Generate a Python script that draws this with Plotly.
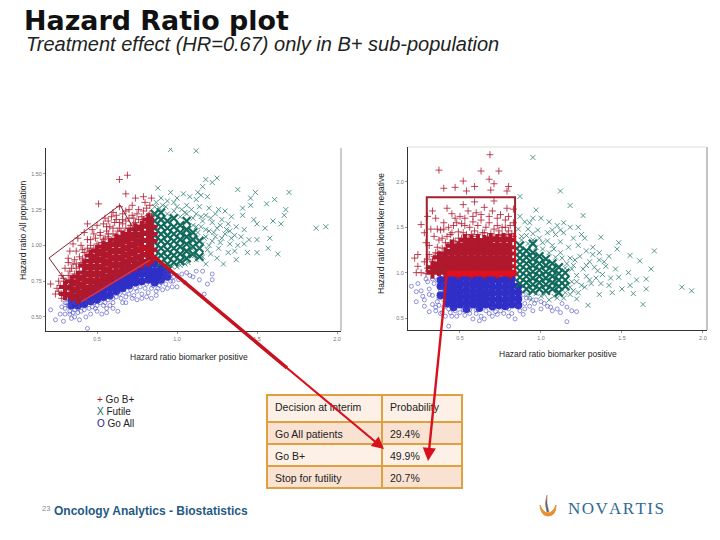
import plotly.graph_objects as go

W, H = 720, 540
RED, TEAL, BLUE = "#b0182e", "#0f6a5c", "#2f2fc8"

# ---- left panel: HR biomarker positive vs HR all population
# dense parts of the clouds: (x, [y readings at that x])
left_red_core = [(.30,[.66,.71]),(.34,[.65,.70,.75]),(.38,[.63,.68,.73,.78]),(.42,[.66,.71,.76,.81,.86]),(.46,[.69,.74,.79,.84,.89,.93]),
                 (.50,[.71,.76,.81,.86,.91,.96]),(.54,[.74,.79,.84,.89,.94,.99]),(.58,[.77,.82,.87,.92,.97,1.01]),(.62,[.80,.85,.90,.95,1.00,1.04]),
                 (.66,[.82,.87,.92,.97,1.02,1.06]),(.70,[.84,.89,.94,.99,1.04,1.08]),(.74,[.86,.91,.96,1.01,1.06,1.11]),
                 (.78,[.88,.93,.98,1.03,1.08,1.13]),(.82,[.89,.94,.99,1.04,1.09,1.14,1.18]),(.84,[.91,.97,1.03,1.08,1.13])]
left_blue_core = [(.34,[.58,.62]),(.38,[.58,.62]),(.42,[.59,.63,.67]),(.46,[.61,.65,.69]),(.50,[.62,.66,.70,.74]),(.54,[.64,.68,.72,.76]),
                  (.58,[.65,.70,.74,.78]),(.62,[.68,.72,.76,.80]),(.66,[.70,.74,.78,.82]),(.70,[.72,.76,.80,.84]),(.74,[.74,.78,.82,.86]),
                  (.78,[.75,.80,.84,.88]),(.82,[.76,.80,.84,.88]),(.86,[.74,.78,.82,.87]),(.90,[.76,.80,.84]),(.94,[.78,.82])]
left_teal_core = [(.86,[.92,.97,1.02,1.07,1.12,1.17,1.22]),(.90,[.88,.93,.98,1.03,1.08,1.13,1.18,1.23]),(.94,[.87,.92,.97,1.02,1.07,1.12,1.17]),
                  (.98,[.88,.93,.98,1.03,1.08,1.13,1.19]),(1.02,[.89,.94,.99,1.04,1.09,1.14]),(1.06,[.91,.96,1.01,1.06,1.11,1.17]),
                  (1.10,[.94,.99,1.04,1.09]),(1.14,[.92,.98,1.03])]
left_red = [(.69,1.49),(.64,1.46),(.68,1.36),(.74,1.33),(.79,1.34),(.84,1.33),(.80,1.30),(.72,1.28),(.51,1.29),(.64,1.27),(.70,1.25),(.76,1.25),
            (.81,1.26),(.60,1.23),(.66,1.22),(.72,1.21),(.78,1.20),(.83,1.22),(.55,1.19),(.62,1.18),(.68,1.17),(.74,1.16),(.80,1.16),(.44,1.15),
            (.50,1.14),(.54,1.15),(.58,1.13),(.64,1.12),(.70,1.12),(.47,1.11),(.42,1.09),(.52,1.09),(.57,1.08),(.62,1.07),(.67,1.09),(.38,1.05),
            (.44,1.04),(.49,1.05),(.54,1.04),(.59,1.03),(.35,1.01),(.40,1.00),(.46,1.00),(.51,1.00),(.33,.96),(.37,.96),(.42,.95),(.47,.96),
            (.32,.91),(.36,.90),(.41,.91),(.32,.88),(.30,.84),(.34,.84),(.39,.85),(.28,.79),(.32,.79),(.36,.80),(.26,.75),(.30,.75),(.34,.74),
            (.21,.73),(.25,.70),(.29,.71),(.32,.70),(.24,.66),(.28,.66),(.31,.64),(.35,.64),(.56,1.10),(.61,1.16),(.66,1.15),(.73,1.19),(.77,1.14),
            (.33,.82),(.35,.78),(.37,.84),(.40,.88),(.43,.90),(.45,.96),(.48,.98),(.50,1.01),(.53,1.02),(.55,1.05),(.57,1.06),(.60,1.08),(.63,1.10),
            (.65,1.10),(.68,1.12),(.71,1.14),(.73,1.15),(.76,1.18),(.79,1.18),(.82,1.21),(.84,1.20),(.27,.72),(.29,.77),(.31,.74),(.33,.72),(.26,.68),
            (.28,.63),(.44,.98),(.41,.97),(.39,.92),(.37,.87),(.35,.87),(.46,1.04),(.52,1.07),(.48,1.08),(.56,1.13),(.60,1.12),(.66,1.18),(.70,1.19),
            (.75,1.22),(.79,1.24),(.83,1.28),(.68,1.24),(.62,1.21),(.57,1.17),(.64,1.16),(.59,1.20)]
left_teal = [(.96,1.67),(1.12,1.66),(1.18,1.46),(1.25,1.47),(1.22,1.44),(1.16,1.41),(.88,1.40),(1.38,1.39),(1.49,1.37),(1.70,1.37),(1.61,1.32),
             (1.56,1.29),(1.68,1.25),(1.67,1.21),(1.60,1.17),(1.65,1.15),(1.55,1.12),(1.87,1.12),(1.93,1.13),(1.58,1.05),(1.63,.94),(1.57,.98),
             (1.50,.95),(1.44,.95),(1.32,.95),(1.37,.90),(1.29,.87),(1.42,1.01),(1.50,1.04),(1.50,1.15),(1.48,1.18),(1.41,1.21),(1.46,1.28),
             (1.41,1.26),(1.46,1.33),(1.13,1.37),(1.15,1.35),(1.19,1.34),(1.12,1.32),(1.08,1.34),(1.04,1.36),(1.00,1.33),(.96,1.37),(.98,1.30),
             (1.06,1.28),(1.14,1.27),(1.20,1.26),(1.26,1.25),(1.30,1.24),(1.24,1.22),(1.18,1.21),(1.12,1.22),(1.05,1.23),(1.34,1.20),(1.28,1.18),
             (1.22,1.16),(1.16,1.17),(1.12,1.13),(1.18,1.11),(1.25,1.12),(1.32,1.15),(1.37,1.13),(1.42,1.11),(1.36,1.07),(1.30,1.08),(1.24,1.06),
             (1.17,1.05),(1.12,1.05),(1.14,.98),(1.20,1.00),(1.27,1.02),(1.33,1.01),(1.38,1.00),(1.45,1.04),(1.21,.94),(1.16,.92),(1.25,.91),
             (1.12,.90),(1.07,.88),(1.02,.86),(.97,.85),(.93,1.27),(.89,1.26),(.86,1.22),(.87,1.30),
             (1.10,1.14),(1.13,1.09),(1.16,1.01),(1.15,1.13),(1.18,1.06),(1.10,1.19),(1.06,1.22),(1.02,1.20),(.98,1.24),(.94,1.22),(.91,1.28),(1.00,1.27),
             (1.09,.98),(1.05,.87),(1.00,.85),(.95,.84),(1.11,.93),(1.19,.97),(1.22,1.03),(1.20,1.10),(1.23,1.09),(1.26,.98),(1.28,1.05),(1.27,1.14),
             (1.31,1.11),(1.34,1.05),(1.36,.96),(1.40,1.06),(1.33,1.10),(1.18,.87),(1.15,1.20),(1.21,1.19),(1.09,1.25),(1.03,1.25),(.86,1.27),(.90,1.33),(.94,1.31)]
left_blue = [(.21,.55),(.24,.48),(.29,.47),(.34,.49),(.39,.48),(.44,.42),(.28,.57),(.33,.54),(.38,.53),(.43,.50),(.50,.54),(.56,.56),(.63,.54),
             (.68,.60),(.75,.62),(.84,.63),(.91,.69),(1.00,.71),(1.03,.80),(1.08,.79),(1.14,.76),(1.19,.73),(1.22,.76),(1.22,.80),(1.17,.66),
             (1.16,.82),(1.12,.82),(.975,.75),(.93,.81),(.32,.58),(.36,.60),(.36,.55),(.40,.58),(.40,.54),(.45,.56),(.48,.60),(.50,.58),(.55,.60),
             (.58,.58),(.60,.60),(.62,.64),(.65,.63),(.68,.64),(.70,.66),(.73,.65),(.75,.68),(.78,.66),(.80,.70),(.82,.67),(.85,.72),(.88,.70),
             (.90,.74),(.93,.73),(.95,.78),(.97,.71),(.30,.52),(.34,.61),(.31,.60),(.27,.52),(.36,.50),(.46,.52),(.53,.52),(.60,.56),(1.01,.76),(1.05,.74),
             (.30,.60),(.33,.57),(.30,.56),(.35,.53),(.42,.55),(.44,.60),(.47,.57),(.52,.60),(.54,.58),(.57,.62),(.60,.63),(.64,.66),(.67,.67),(.71,.69),
             (.74,.70),(.77,.71),(.81,.73),(.84,.70),(.87,.68),(.89,.72),(.92,.77),(.96,.75),(.98,.78),(1.0,.79),(.96,.80),(.33,.52),(.38,.56),(.49,.56),
             (.56,.53),(.66,.60),(.72,.63),(.78,.63),(.87,.65),(1.06,.81),(1.10,.78),(.94,.70),(.81,.64)]

# ---- right panel: HR biomarker positive vs HR biomarker negative
right_red_core = [(.33,[1.00,1.06]),(.37,[1.03,1.10,1.17]),(.41,[1.00,1.07,1.14,1.21]),(.45,[1.03,1.10,1.17,1.24,1.30]),
                  (.49,[1.00,1.07,1.14,1.21,1.28]),(.53,[1.03,1.10,1.17,1.24,1.31,1.36]),(.57,[1.00,1.07,1.14,1.21,1.28,1.35]),
                  (.61,[1.03,1.10,1.17,1.24,1.31,1.36]),(.65,[1.00,1.07,1.14,1.21,1.28,1.35]),(.69,[1.03,1.10,1.17,1.24,1.31,1.37]),
                  (.73,[1.00,1.07,1.14,1.21,1.28,1.36]),(.77,[1.03,1.10,1.17,1.24,1.31,1.37]),(.81,[1.00,1.07,1.14,1.21,1.28,1.36])]
right_blue_core = [(.38,[.75,.85,.92]),(.42,[.66,.73,.80,.87,.94]),(.46,[.62,.69,.76,.83,.90,.96]),(.50,[.65,.72,.79,.86,.93]),
                   (.54,[.60,.67,.74,.81,.88,.95]),(.58,[.65,.72,.79,.86,.93]),(.62,[.61,.68,.75,.82,.89,.96]),(.66,[.65,.72,.79,.86,.93]),
                   (.70,[.63,.70,.77,.84,.91,.96]),(.74,[.64,.71,.78,.85,.92]),(.78,[.63,.70,.77,.84,.91,.96]),(.82,[.65,.72,.79,.86,.93]),
                   (.86,[.64,.71,.78,.85])]
right_teal_core = [(.87,[.88,.95,1.02,1.09,1.16,1.23,1.30]),(.91,[.82,.89,.96,1.03,1.10,1.17,1.24]),(.95,[.80,.87,.94,1.01,1.08,1.15,1.22,1.32]),
                   (.99,[.82,.89,.96,1.03,1.10,1.18]),(1.03,[.80,.87,.94,1.01,1.08,1.15]),(1.07,[.82,.89,.96,1.03,1.10]),
                   (1.11,[.78,.85,.92,.99,1.06]),(1.15,[.85,.92,1.00])]
right_red = [(.685,2.30),(.37,2.13),(.63,2.12),(.74,2.12),(.52,2.01),(.68,2.03),(.71,1.98),(.59,1.95),(.40,1.93),(.47,1.94),(.54,1.90),(.80,1.95),
             (.79,1.90),(.69,1.91),(.26,1.53),(.28,1.44),(.22,1.16),(.24,1.20),(.24,1.07),(.23,1.00),(.26,1.00),(.30,1.62),(.33,1.68),(.42,1.71),
             (.52,1.75),(.59,1.78),(.71,1.79),(.79,1.71),(.35,1.60),(.40,1.55),(.45,1.65),(.50,1.62),(.55,1.68),(.60,1.66),(.65,1.72),(.70,1.68),
             (.75,1.64),(.80,1.62),(.83,1.70),(.38,1.47),(.43,1.50),(.48,1.55),(.53,1.52),(.58,1.56),(.63,1.58),(.68,1.55),(.73,1.52),(.78,1.50),
             (.83,1.55),(.34,1.40),(.39,1.38),(.44,1.42),(.49,1.45),(.54,1.42),(.59,1.46),(.64,1.44),(.69,1.43),(.74,1.41),(.79,1.42),(.83,1.40),
             (.31,1.30),(.36,1.28),(.41,1.33),(.46,1.35),(.51,1.38),(.57,1.42),(.31,1.20),(.33,1.12),(.30,1.05),(.29,.99),(.35,1.22),(.61,1.42),(.76,1.42),
             (.33,1.14),(.35,1.08),(.34,1.18),(.37,1.21),(.39,1.18),(.39,1.27),(.42,1.28),(.44,1.33),(.47,1.34),(.49,1.38),(.52,1.44),(.55,1.38),(.58,1.40),
             (.62,1.37),(.65,1.44),(.67,1.40),(.71,1.40),(.74,1.46),(.77,1.40),(.80,1.46),(.82,1.43),(.45,1.44),(.42,1.40),(.37,1.36),(.36,1.48),(.40,1.48),
             (.46,1.52),(.51,1.54),(.56,1.50),(.61,1.52),(.66,1.50),(.71,1.48),(.76,1.50),(.81,1.52),(.47,1.60),(.53,1.60),(.58,1.62),(.63,1.64),(.68,1.62),
             (.73,1.60),(.78,1.58),(.32,1.48),(.29,1.33),(.28,1.12),(.30,1.15)]
right_teal = [(.95,2.27),(1.12,1.90),(1.18,1.74),(1.26,1.63),(1.37,1.39),(.87,1.84),(1.70,1.24),(1.87,.84),(1.93,.80),(1.63,.65),(1.57,.77),(1.48,1.33),
              (1.47,1.26),(1.55,1.19),(1.61,1.13),(1.68,1.04),(1.65,.93),(1.54,1.00),(1.42,1.18),(1.40,1.07),(1.48,.95),(1.50,.82),(1.44,.78),(1.36,.76),
              (1.29,.64),(1.22,.71),(1.18,.76),(.97,1.69),(.95,1.60),(1.00,1.60),(1.05,1.56),(1.10,1.52),(1.14,1.55),(1.18,1.50),(1.23,1.50),(.90,1.56),
              (.87,1.62),(.92,1.48),(.98,1.47),(1.04,1.44),(1.09,1.42),(1.14,1.44),(1.20,1.38),(1.27,1.38),(.88,1.40),(.95,1.36),(1.01,1.33),(1.07,1.30),
              (1.12,1.34),(1.17,1.28),(1.23,1.30),(1.28,1.24),(1.32,1.20),(1.12,1.22),(1.18,1.16),(1.24,1.18),(1.30,1.12),(1.36,1.14),(1.20,1.08),(1.26,1.04),
              (1.22,.97),(1.28,.96),(1.34,.94),(1.38,.98),(1.19,.90),(1.25,.86),(1.31,.88),(1.15,.78),(1.20,.80),(1.10,.72),(1.05,.70),(1.00,.74),(.94,.70),
              (1.19,1.04),(1.16,1.10),(1.13,1.16),(1.09,1.17),(1.05,1.22),(1.01,1.26),(.97,1.28),(.92,1.32),(.88,1.36),(.91,1.41),(.95,1.43),(.99,1.38),
              (1.04,1.35),(1.08,1.26),(1.21,1.14),(1.15,1.05),(1.22,.90),(1.28,1.08),(1.33,1.06),(1.27,.84),(1.23,.78),(1.18,.84),(1.14,.72),(1.08,.74),
              (1.02,.76),(.97,.77),(.92,.76),(1.35,1.02),(1.30,.92),(1.37,.88),(1.43,.94),(1.46,1.04),(1.42,.86),(1.55,.86),(1.59,.92),(1.65,.82),(.86,1.48),
              (.93,1.55),(1.07,1.47),(1.12,1.47),(1.25,1.42),(1.32,1.28),(1.36,1.22),(1.39,1.12)]
right_blue = [(.20,.85),(.23,.79),(.23,.68),(.27,.74),(.28,.63),(.31,.57),(.43,.41),(.39,.56),(.48,.52),(.62,.47),(.65,.49),(.73,.54),(.84,.49),(.89,.54),
              (1.16,.46),(1.22,.57),(1.07,.58),(1.16,.62),(.95,.58),(1.00,.60),(.31,.82),(.33,.75),(.36,.68),(.30,.90),(.34,.88),(.38,.80),(.40,.62),
              (.37,.72),(.43,.60),(.47,.58),(.52,.59),(.56,.55),(.60,.59),(.66,.58),(.70,.60),(.75,.58),(.80,.60),(.86,.62),(.90,.66),(.93,.72),(.89,.76),
              (.96,.66),(1.00,.68),(1.04,.63),(1.10,.60),(1.13,.66),(1.19,.58),(.58,.49),(.70,.52),(.45,.52),(.35,.62),(.80,.52),
              (.24,.88),(.26,.80),(.28,.70),(.31,.76),(.33,.65),(.35,.58),(.37,.64),(.38,.55),(.41,.52),(.44,.56),(.50,.56),(.53,.53),(.56,.59),(.60,.55),
              (.63,.52),(.68,.55),(.72,.57),(.77,.55),(.82,.55),(.87,.58),(.90,.60),(.93,.63),(.97,.70),(.91,.72),(1.02,.66),(1.06,.62),(1.12,.56),(.36,.92),
              (.33,.93),(.29,.93),(.40,.70),(.40,.86)]

legend_labels = ["Go B+", "Futile", "Go All"]
table_header = ["Decision at interim", "Probability"]
table_decisions = ["Go All patients", "Go B+", "Stop for futility"]
table_probabilities = ["29.4%", "49.9%", "20.7%"]
x_ticks = [0.5, 1.0, 1.5, 2.0]
left_y_ticks = [0.50, 0.75, 1.00, 1.25, 1.50]
right_y_ticks = [0.5, 1.0, 1.5, 2.0]


def px(x):
    return x / W


def py(y):
    return 1 - y / H


def xs(p):
    return [a for a, _ in p]


def ys(p):
    return [b for _, b in p]


def flat(columns):
    return [(x, y) for x, col in columns for y in col]


fig = go.Figure()


def panel(xa, ya, blue_core, blue, teal_core, teal, red_core, red):
    common = dict(xaxis=xa, yaxis=ya, mode="markers", showlegend=False, hoverinfo="skip")
    bc, tc, rc = flat(blue_core), flat(teal_core), flat(red_core)
    fig.add_scatter(x=xs(bc), y=ys(bc), marker=dict(size=8, color=BLUE, symbol="circle"), **common)
    fig.add_scatter(x=xs(blue), y=ys(blue), marker=dict(size=4, symbol="circle-open", color="#4a4ac8", line=dict(width=0.6)), **common)
    fig.add_scatter(x=xs(tc), y=ys(tc), marker=dict(size=8, symbol="x-thin", line=dict(color=TEAL, width=2.2)), **common)
    fig.add_scatter(x=xs(teal), y=ys(teal), marker=dict(size=5, symbol="x-thin", line=dict(color="#2f7f72", width=0.8)), **common)
    fig.add_scatter(x=xs(rc), y=ys(rc), marker=dict(size=10, color=RED, symbol="cross"), **common)
    fig.add_scatter(x=xs(red), y=ys(red), marker=dict(size=5, symbol="cross-thin", line=dict(color=RED, width=0.8)), **common)


panel("x", "y", left_blue_core, left_blue, left_teal_core, left_teal, left_red_core, left_red)
panel("x2", "y2", right_blue_core, right_blue, right_teal_core, right_teal, right_red_core, right_red)

axis_style = dict(showgrid=False, zeroline=False, showline=True, linecolor="#333", linewidth=1, ticks="outside", ticklen=2,
                  tickcolor="#999", tickfont=dict(size=5.5, color="#777", family="Liberation Sans"), mirror=False)
fig.update_layout(
    width=W, height=H, margin=dict(l=0, r=0, t=0, b=0), paper_bgcolor="white", plot_bgcolor="white",
    xaxis=dict(domain=[px(46), px(341)], range=[0.181, 2.025], tickvals=x_ticks, tickformat=".1f", anchor="y", **axis_style),
    yaxis=dict(domain=[py(331), py(148)], range=[0.402, 1.68], tickvals=left_y_ticks, tickformat=".2f", anchor="x", **axis_style),
    xaxis2=dict(domain=[px(408), px(707)], range=[0.179, 2.025], tickvals=x_ticks, tickformat=".1f", anchor="y2", **axis_style),
    yaxis2=dict(domain=[py(330), py(147)], range=[0.368, 2.385], tickvals=right_y_ticks, tickformat=".1f", anchor="x2", **axis_style),
)

fig.add_trace(go.Table(
    domain=dict(x=[px(267), px(462)], y=[py(491), py(395)]),
    columnwidth=[115, 80],
    header=dict(values=table_header, height=27, align="left",
                fill_color="#fdf0e6", line=dict(color="#e0a040", width=2),
                font=dict(family="Liberation Sans", size=10.5, color="#222")),
    cells=dict(values=[table_decisions, table_probabilities], height=22, align="left",
               fill_color=[["#f9e2d2", "#fdf0e6", "#f9e2d2"]] * 2, line=dict(color="#e0a040", width=2),
               font=dict(family="Liberation Sans", size=10.5, color="#222")),
))

SEL = "#a3202c"
BRIGHT = "#e0101e"
shapes = [
    dict(type="line", xref="paper", yref="paper", x0=px(341), x1=px(341), y0=py(331), y1=py(148), line=dict(color="#999", width=1)),
    dict(type="line", xref="paper", yref="paper", x0=px(707), x1=px(707), y0=py(330), y1=py(147), line=dict(color="#888", width=1)),
    dict(type="line", xref="paper", yref="paper", x0=px(408), x1=px(707), y0=py(147), y1=py(147), line=dict(color="#ddd", width=1)),
    dict(type="path", xref="paper", yref="paper", line=dict(color="#8a2030", width=1),
         path=f"M {px(49)} {py(258)} L {px(120)} {py(205)} L {px(150)} {py(258)} L {px(81)} {py(302)} Z"),
    dict(type="rect", xref="x2", yref="y2", x0=0.295, x1=0.84, y0=1.02, y1=1.83, line=dict(color=SEL, width=2)),
    dict(type="line", xref="x2", yref="y2", x0=0.42, x1=0.85, y0=0.99, y1=0.99, line=dict(color=BRIGHT, width=6)),
    dict(type="line", xref="x2", yref="y2", x0=0.84, x1=0.84, y0=1.0, y1=1.45, line=dict(color=BRIGHT, width=1.5)),
    dict(type="line", xref="paper", yref="paper", x0=px(81), y0=py(302), x1=px(150), y1=py(260), line=dict(color="#e23040", width=1.5)),
    dict(type="line", xref="paper", yref="paper", x0=px(140), y0=py(245), x1=px(287), y1=py(368), line=dict(color="#c8101e", width=3.5)),
    dict(type="path", xref="paper", yref="paper", fillcolor="#e89030", line=dict(color="#e89030", width=1),
         path=f"M {px(540)} {py(505)} Q {px(541)} {py(516)} {px(548)} {py(516)} Q {px(556)} {py(516)} {px(556)} {py(505)} Q {px(553)} {py(513)} {px(548)} {py(513)} Q {px(543)} {py(513)} {px(540)} {py(505)} Z"),
    dict(type="path", xref="paper", yref="paper", fillcolor="#2f6fa0", line=dict(color="#c86030", width=0.5),
         path=f"M {px(547)} {py(495)} Q {px(544)} {py(503)} {px(547)} {py(512)} L {px(549)} {py(512)} Q {px(546)} {py(503)} {px(547)} {py(495)} Z"),
]
fig.update_layout(shapes=shapes)


def label(x, y, text, size=7, color="#222", family="Liberation Sans", anchor="left", angle=0, **kw):
    fig.add_annotation(xref="paper", yref="paper", x=px(x), y=py(y), text=text, showarrow=False, xanchor=anchor, yanchor="middle",
                       textangle=angle, font=dict(size=size, color=color, family=family), **kw)


label(22, 21, "<b>Hazard Ratio plot</b>", size=26.9, color="#111", family="DejaVu Sans")
label(24, 44, "<i>Treatment effect (HR=0.67) only in B+ sub-population</i>", size=20, color="#222")
label(23, 230, "Hazard ratio All population", size=8.5, anchor="center", angle=-90)
label(381, 234, "Hazard ratio biomarker negative", size=8.5, anchor="center", angle=-90)
label(189, 357, "Hazard ratio biomarker positive", size=8.5, anchor="center")
label(558, 354, "Hazard ratio biomarker positive", size=8.5, anchor="center")
legend_marks = [("+", RED), ("X", TEAL), ("O", "#22228c")]
for i, (name, (mark, col)) in enumerate(zip(legend_labels, legend_marks)):
    label(95, 399 + 12 * i, f"<span style='color:{col}'>{mark}</span> {name}", size=10)
label(40, 509, "23", size=7.5, color="#888")
label(52, 511, "<b>Oncology Analytics - Biostatistics</b>", size=12, color="#1f5a85")
label(566, 508, "\u200a".join("NOVARTIS"), size=17, color="#2f6a94", family="Liberation Serif")

for (x0, y0, x1, y1, width) in [(281, 363, 384, 449, 2.2), (447, 273, 428, 461, 2.4)]:
    fig.add_annotation(xref="paper", yref="paper", x=px(x1), y=py(y1), ax=x0 - x1, ay=y0 - y1, axref="pixel", ayref="pixel",
                       text="", showarrow=True, arrowhead=2, arrowsize=1.1, arrowwidth=width, arrowcolor="#d8101e", standoff=0)

fig.write_html("out.html", config={"displayModeBar": False},
               post_script="document.body.style.margin='0';document.documentElement.style.margin='0';window.dispatchEvent(new Event('resize'));")
